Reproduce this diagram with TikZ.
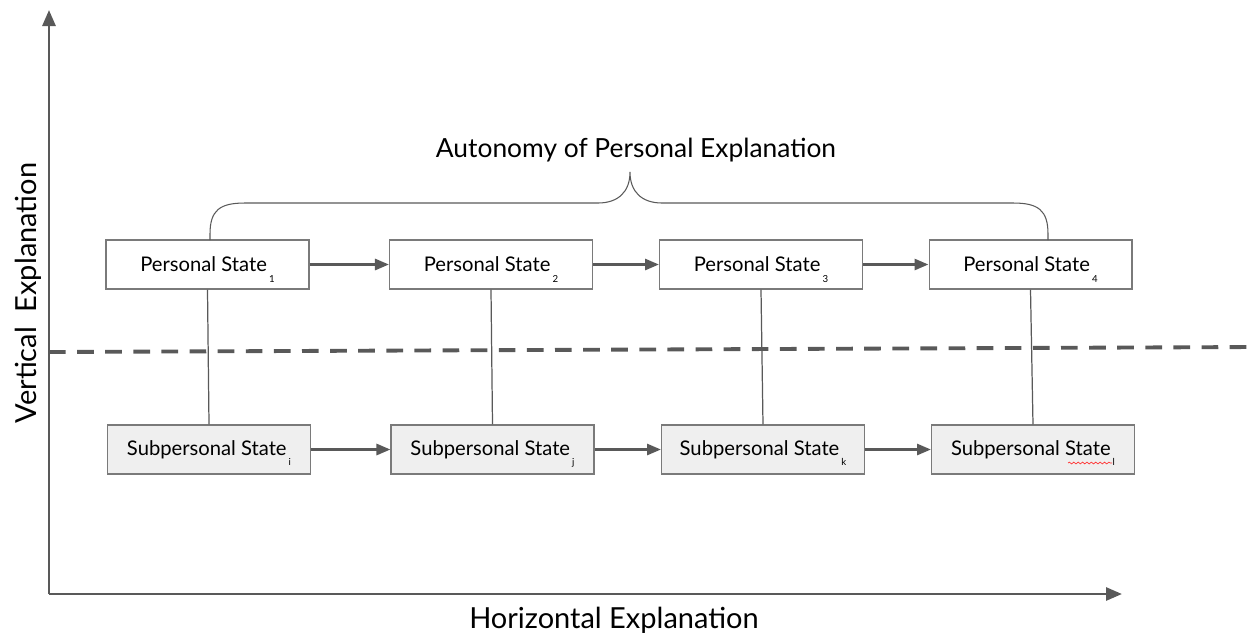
\documentclass[tikz,border=0pt]{standalone}
\usepackage{fontspec}
\setmainfont{Lato}
\usepackage{xcolor}
\usepackage{tikz}
\usetikzlibrary{arrows.meta,decorations.pathmorphing}

\definecolor{linegray}{HTML}{595959}
\definecolor{boxgray}{HTML}{EFEFEF}
\definecolor{edgegray}{HTML}{7A7A7A}
\newcommand{\stsub}[1]{\kern1.2pt\raisebox{-1.0ex}[0pt][0pt]{\fontsize{5.5}{6}\selectfont #1}}

\begin{document}
\begin{tikzpicture}[
			x=0.02cm,y=-0.02cm,
			pstate/.style={draw=edgegray,line width=0.6pt,minimum width=4.06cm,minimum height=0.98cm,inner sep=0pt,font=\fontsize{11.5}{13}\selectfont},
			sstate/.style={pstate,fill=boxgray},
			arrow/.style={-{Triangle[length=2.8mm,width=2.2mm]},line width=1.6pt,draw=linegray},
			axis/.style={-{Triangle[length=3.2mm,width=2.6mm]},line width=1.6pt,draw=linegray},
			link/.style={draw=linegray,line width=0.7pt},
			lbl/.style={font=\fontsize{15}{18}\selectfont}
			]
			\useasboundingbox (0,0) rectangle (1255,637);
			% axes
			\coordinate (origin) at (49,594);
			\coordinate (ytip) at (49,10);
			\coordinate (xtip) at (1122,594);
			\draw[axis] (origin)--(ytip);
			\draw[axis] (origin)--(xtip);
			\node[lbl,font=\fontsize{16.5}{20}\selectfont] (hlab) at (614,620) {Horizontal Explanation};
			\node[lbl,font=\fontsize{16.5}{20}\selectfont,rotate=90] (vlab) at (28,293) {Vertical\ \ Explanation};
			% level boundary
			\coordinate (dashl) at (49,352);
			\coordinate (dashr) at (1255,347);
			\draw[draw=linegray,line width=2.2pt,dash pattern=on 9.5pt off 6.5pt] (dashl)--(dashr);
			% personal level
			\node[pstate] (p1) at (207.5,264.5) {Personal State\stsub{1}};
			\node[pstate] (p2) at (491,264.5) {Personal State\stsub{2}};
			\node[pstate] (p3) at (761,264.5) {Personal State\stsub{3}};
			\node[pstate] (p4) at (1030.5,264.5) {Personal State\stsub{4}};
			% subpersonal level
			\node[sstate] (s1) at (209,449.5) {Subpersonal State\stsub{i}};
			\node[sstate] (s2) at (492.5,449.5) {Subpersonal State\stsub{j}};
			\node[sstate] (s3) at (763,449.5) {Subpersonal State\stsub{k}};
			\node[sstate] (s4) at (1033,449.5) {Subpersonal State\stsub{l}};
			\foreach \i/\j in {1/2,2/3,3/4}{
				\draw[arrow] (p\i)--(p\j);
				\draw[arrow] (s\i)--(s\j);
			}
			\foreach \i in {1,...,4}
				\draw[link] (p\i.south)--(s\i.north);
			% brace
			\coordinate (bl) at (210,240);
			\coordinate (br) at (1048,240);
			\coordinate (btip) at (630,172);
			\draw[link,line width=0.6pt] (bl)--(210,234) .. controls (210,210) and (220,203) .. (245,203)
				--(598,203) .. controls (618,203) and (630,192) .. (btip)
				.. controls (630,192) and (642,203) .. (662,203)
				--(1013,203) .. controls (1038,203) and (1048,210) .. (1048,234)--(br);
			\node[lbl] (auto) at (636,150) {Autonomy of Personal Explanation};
			% spelling mark
			\draw[red!80,line width=0.4pt,decorate,decoration={snake,amplitude=0.5pt,segment length=2.5pt}] (1068,463)--(1112,463);
		\end{tikzpicture}
\end{document}
